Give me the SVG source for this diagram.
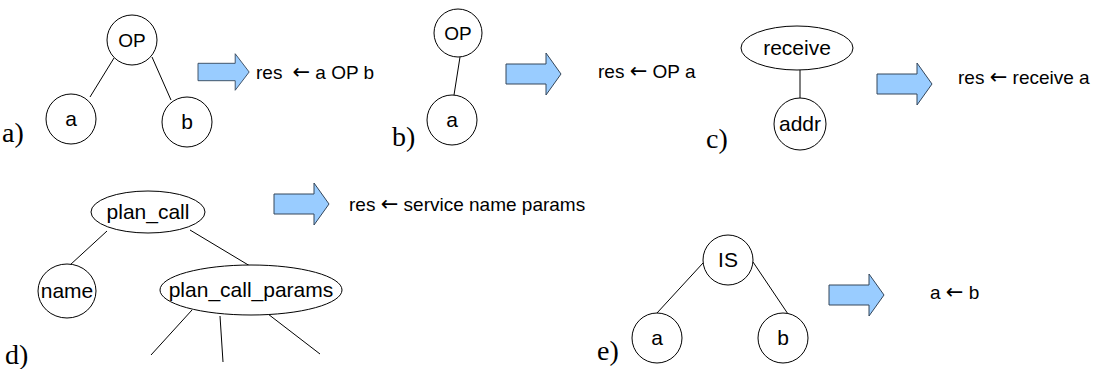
<svg xmlns="http://www.w3.org/2000/svg" xmlns:xlink="http://www.w3.org/1999/xlink" width="1099" height="369" viewBox="0 0 1099 369">
<style>
.n{fill:#fff;stroke:#000;stroke-width:1}
.t{font-family:"Liberation Sans",Arial,sans-serif;font-size:21px;fill:#000;text-anchor:middle}
.op{font-size:19px}
.r{font-family:"Liberation Sans",Arial,sans-serif;font-size:19px;fill:#000}
.arw{font-family:"DejaVu Sans",sans-serif;font-size:21px}
.lab{font-family:"Liberation Serif","Times New Roman",serif;font-size:28px;fill:#000}
.e line{stroke:#000;stroke-width:1}
.ar{fill:#99ccff;stroke:#34465a;stroke-width:1}
</style>
<defs>
<path id="bigArrow" class="ar" d="M0,-10 H40 V-21 L55,0 L40,21 V10 H0 Z"/>
</defs>
<g id="edges" class="e">
<line x1="114" y1="58" x2="90" y2="97"/>
<line x1="152" y1="57" x2="171" y2="100"/>
<line x1="460" y1="57" x2="454" y2="95"/>
<line x1="800" y1="70" x2="800" y2="98"/>
<line x1="107" y1="231" x2="70" y2="265"/>
<line x1="190" y1="230" x2="250" y2="266"/>
<line x1="192" y1="310" x2="151" y2="355"/>
<line x1="220" y1="316" x2="223" y2="362"/>
<line x1="268" y1="314" x2="320" y2="354"/>
<line x1="703" y1="263" x2="657" y2="313"/>
<line x1="753" y1="262" x2="788" y2="314"/>
</g>
<g id="a-panel">
<text class="lab" x="2" y="142">a)</text>
<g id="a-op"><circle class="n" cx="132" cy="40" r="25"/><text class="t op" x="132" y="47">OP</text></g>
<g id="a-a"><circle class="n" cx="71" cy="119" r="25"/><text class="t" x="71" y="126">a</text></g>
<g id="a-b"><circle class="n" cx="187" cy="122" r="25"/><text class="t" x="187" y="129">b</text></g>
<use xlink:href="#bigArrow" href="#bigArrow" transform="translate(198,72) scale(0.93,0.87)"/>
<text class="r" x="256" y="79">res<tspan class="arw" dx="10">←</tspan> a OP b</text>
</g>
<g id="b-panel">
<text class="lab" x="392" y="146">b)</text>
<g id="b-op"><circle class="n" cx="458" cy="33" r="24"/><text class="t op" x="458" y="40">OP</text></g>
<g id="b-a"><circle class="n" cx="452" cy="120" r="25"/><text class="t" x="452" y="127">a</text></g>
<use xlink:href="#bigArrow" href="#bigArrow" transform="translate(506,74)"/>
<text class="r" x="598" y="78">res <tspan class="arw">←</tspan> OP a</text>
</g>
<g id="c-panel">
<text class="lab" x="706" y="148">c)</text>
<g id="c-receive"><ellipse class="n" cx="797" cy="48" rx="56" ry="22"/><text class="t" x="797" y="55">receive</text></g>
<g id="c-addr"><circle class="n" cx="800" cy="124" r="26"/><text class="t" x="800" y="131">addr</text></g>
<use xlink:href="#bigArrow" href="#bigArrow" transform="translate(877,84)"/>
<text class="r" x="958" y="84">res <tspan class="arw">←</tspan> receive a</text>
</g>
<g id="d-panel">
<text class="lab" x="5" y="364">d)</text>
<g id="d-plancall"><ellipse class="n" cx="148" cy="212" rx="57" ry="21"/><text class="t" x="148" y="219">plan_call</text></g>
<g id="d-name"><ellipse class="n" cx="67" cy="291" rx="29" ry="27"/><text class="t" x="67" y="298">name</text></g>
<g id="d-params"><ellipse class="n" cx="251" cy="290" rx="91" ry="25"/><text class="t" x="251" y="297">plan_call_params</text></g>
<use xlink:href="#bigArrow" href="#bigArrow" transform="translate(274,204)"/>
<text class="r" x="349" y="211">res <tspan class="arw">←</tspan> service name params</text>
</g>
<g id="e-panel">
<text class="lab" x="597" y="360">e)</text>
<g id="e-is"><circle class="n" cx="728" cy="260" r="25"/><text class="t" x="728" y="267">IS</text></g>
<g id="e-a"><circle class="n" cx="657" cy="338" r="25"/><text class="t" x="657" y="345">a</text></g>
<g id="e-b"><circle class="n" cx="783" cy="338" r="25"/><text class="t" x="783" y="345">b</text></g>
<use xlink:href="#bigArrow" href="#bigArrow" transform="translate(829,295)"/>
<text class="r" x="930" y="299">a <tspan class="arw">←</tspan> b</text>
</g>
</svg>
